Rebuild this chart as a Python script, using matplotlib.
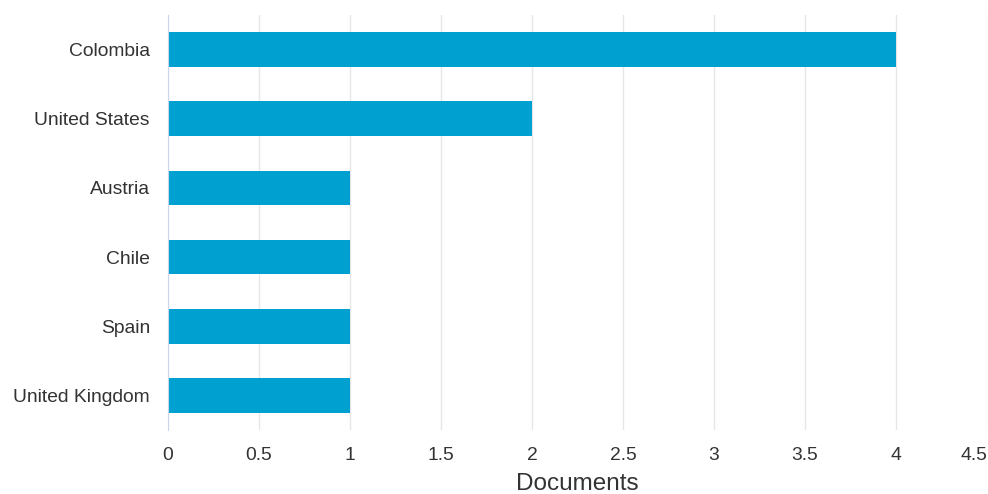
import matplotlib
matplotlib.use('Agg')
import matplotlib.pyplot as plt

countries = ['Colombia', 'United States', 'Austria', 'Chile', 'Spain', 'United Kingdom']
documents = [4, 2, 1, 1, 1, 1]
xticks = [0, 0.5, 1, 1.5, 2, 2.5, 3, 3.5, 4, 4.5]
xtick_labels = ['0', '0.5', '1', '1.5', '2', '2.5', '3', '3.5', '4', '4.5']


def main():
    plt.rcParams['font.family'] = ['Liberation Sans', 'DejaVu Sans']
    fig = plt.figure(figsize=(9.88, 4.94), dpi=100)
    ax = fig.add_axes([168 / 988, 1 - 430 / 494, (987 - 168) / 988, 415 / 494])

    ypos = list(range(len(countries)))
    ax.barh(ypos, documents, height=0.5, color='#00a0d0', zorder=3)
    ax.set_ylim(len(countries) - 0.5, -0.5)
    ax.set_xlim(0, 4.5)
    ax.set_yticks(ypos)
    ax.set_yticklabels(countries, fontsize=13.9, color='#333333')
    ax.set_xticks(xticks)
    ax.set_xticklabels(xtick_labels, fontsize=13.9, color='#333333')
    ax.get_xticklabels()[-1].set_horizontalalignment('right')

    ax.grid(axis='x', color='#e6e6e6', linewidth=1, zorder=0)
    ax.tick_params(axis='both', length=0)
    ax.tick_params(axis='x', pad=12)
    ax.tick_params(axis='y', pad=13)
    for side in ['top', 'right', 'bottom']:
        ax.spines[side].set_visible(False)
    ax.spines['left'].set_color('#ccd6eb')
    ax.spines['left'].set_zorder(4)

    ax.set_xlabel('Documents', fontsize=17.5, color='#333333', labelpad=6.5)
    fig.savefig('out.png', dpi=100)


if __name__ == '__main__':
    main()
